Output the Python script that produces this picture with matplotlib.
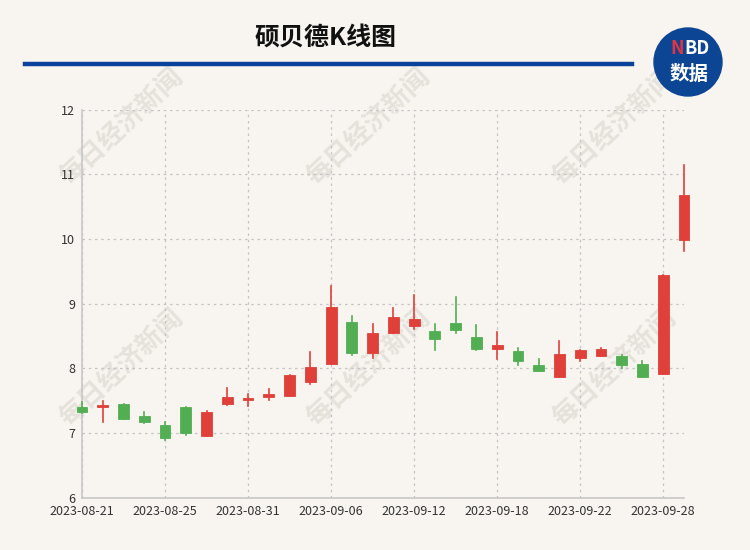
import matplotlib.pyplot as plt
from matplotlib.patches import Ellipse, Rectangle
from matplotlib.lines import Line2D

plt.rcParams['font.family'] = ['Noto Sans CJK SC', 'DejaVu Sans']

dates = ['2023-08-21', '2023-08-22', '2023-08-23', '2023-08-24', '2023-08-25',
         '2023-08-28', '2023-08-29', '2023-08-30', '2023-08-31', '2023-09-01',
         '2023-09-04', '2023-09-05', '2023-09-06', '2023-09-07', '2023-09-08',
         '2023-09-11', '2023-09-12', '2023-09-13', '2023-09-14', '2023-09-15',
         '2023-09-18', '2023-09-19', '2023-09-20', '2023-09-21', '2023-09-22',
         '2023-09-25', '2023-09-26', '2023-09-27', '2023-09-28', '2023-10-09']
opens = [7.40, 7.41, 7.45, 7.27, 7.12, 7.40, 6.95, 7.45, 7.51, 7.55,
         7.58, 7.79, 8.06, 8.71, 8.23, 8.54, 8.65, 8.58, 8.70, 8.48,
         8.30, 8.27, 8.05, 7.86, 8.16, 8.19, 8.19, 8.07, 7.91, 9.98]
closes = [7.33, 7.44, 7.22, 7.17, 6.93, 7.00, 7.32, 7.55, 7.54, 7.60,
          7.90, 8.02, 8.95, 8.23, 8.54, 8.80, 8.76, 8.46, 8.60, 8.30,
          8.36, 8.12, 7.96, 8.22, 8.28, 8.30, 8.05, 7.87, 9.45, 10.68]
highs = [7.48, 7.50, 7.45, 7.33, 7.17, 7.40, 7.34, 7.70, 7.60, 7.68,
         7.90, 8.25, 9.27, 8.81, 8.69, 8.94, 9.14, 8.68, 9.11, 8.67,
         8.57, 8.31, 8.14, 8.42, 8.28, 8.31, 8.21, 8.11, 9.45, 11.14]
lows = [7.31, 7.17, 7.22, 7.16, 6.89, 6.97, 6.95, 7.43, 7.42, 7.51,
        7.58, 7.76, 8.06, 8.21, 8.16, 8.54, 8.61, 8.29, 8.55, 8.28,
        8.14, 8.05, 7.96, 7.86, 8.12, 8.19, 8.00, 7.87, 7.91, 9.82]

RED = '#e0403a'
GREEN = '#52ae52'
BG = '#f8f5f0'

fig = plt.figure(figsize=(7.5, 5.5), dpi=100, facecolor=BG)
ax = fig.add_axes([82 / 750, 52.3 / 550, 602 / 750, 388 / 550])
ax.set_facecolor('none')

# watermark (behind everything)
for x in [122, 369, 615]:
    for y in [127, 368]:
        fig.text(x / 750, 1 - y / 550, '每日经济新闻', fontsize=19,
                 color='#d6d1ca', alpha=0.55, rotation=43, ha='center',
                 va='center', fontweight='bold', zorder=-1)

w = 0.52
for i in range(len(dates)):
    o, c = opens[i], closes[i]
    col = RED if c >= o else GREEN
    ax.add_line(Line2D([i, i], [lows[i], highs[i]], color=col, lw=1.2,
                       zorder=3, clip_on=False))
    ax.add_patch(Rectangle((i - w / 2, min(o, c)), w, max(abs(c - o), 0.02),
                           facecolor=col, edgecolor=col, lw=0.6,
                           zorder=4, clip_on=False))

ax.set_xlim(0, len(dates) - 1)
ax.set_ylim(6, 12)
ax.set_yticks(range(6, 13))
ticks = list(range(0, len(dates), 4))
ax.set_xticks(ticks)
ax.set_xticklabels([dates[t] for t in ticks])
ax.grid(True, linestyle=(0, (2, 3)), color='#c4c4c4', lw=0.9)
ax.set_axisbelow(True)
for s in ['top', 'right']:
    ax.spines[s].set_visible(False)
for s in ['left', 'bottom']:
    ax.spines[s].set_color('#c8c8c8')
    ax.spines[s].set_linewidth(1.2)
ax.tick_params(length=0, labelsize=9, colors='#333333', pad=5)

# title and header line
fig.text(326 / 750, 1 - 38 / 550, '硕贝德K线图', fontsize=18, fontweight='bold',
         ha='center', va='center', color='#111111')
fig.add_artist(Line2D([25 / 750, 632 / 750], [1 - 64 / 550, 1 - 64 / 550],
                      color='#0a4199', lw=3.2))

# logo
fig.add_artist(Ellipse((688 / 750, 1 - 62 / 550), 68 / 750, 68 / 550,
                       color='#0d4595', transform=fig.transFigure))
fig.text(677 / 750, 1 - 49 / 550, 'N', fontsize=13, fontweight='bold',
         color='#e8343a', ha='center', va='center', fontstyle='italic')
fig.text(697 / 750, 1 - 49 / 550, 'BD', fontsize=13, fontweight='bold',
         color='white', ha='center', va='center')
fig.text(689 / 750, 1 - 74 / 550, '数据', fontsize=14, fontweight='bold',
         color='white', ha='center', va='center')

fig.savefig('out.png', dpi=100, facecolor=BG)
